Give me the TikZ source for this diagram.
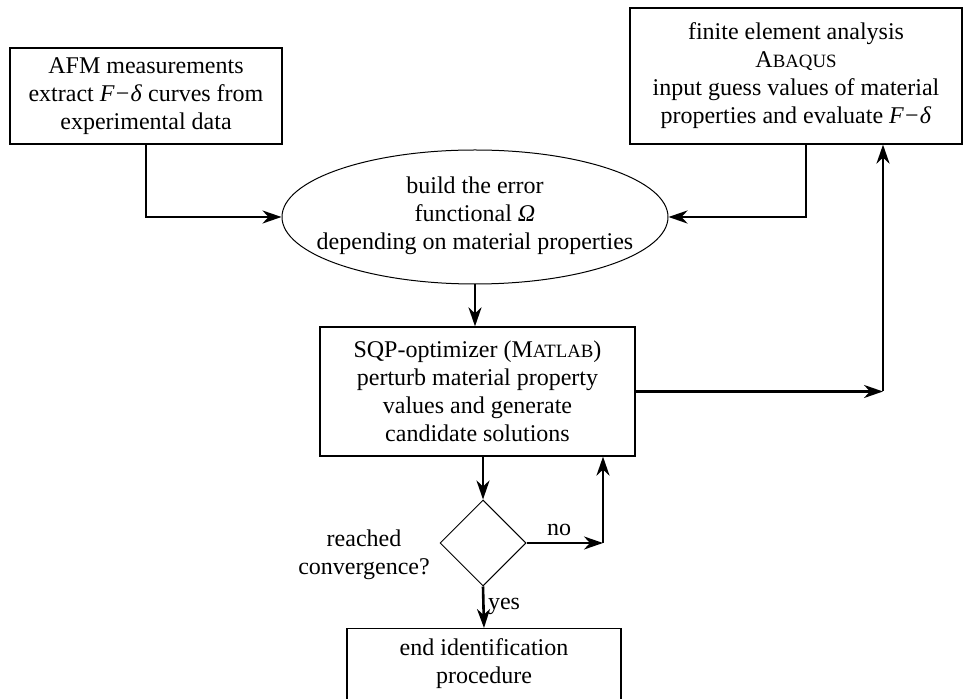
\documentclass[tikz,border=0pt]{standalone}
\usepackage{fontspec}
\setmainfont{Liberation Serif}
\usetikzlibrary{arrows.meta,shapes.geometric}
\newcommand\Fdel{\textit{F}\kern0.6pt−\kern0.6pt\textit{δ}}
\newcommand\fakesc[1]{{\fontsize{9.4}{10}\selectfont #1}}
\begin{document}
\begin{tikzpicture}[x=0.5pt,y=-0.5pt,
  every node/.style={font=\fontsize{12}{14}\selectfont, inner sep=0pt},
  boxnode/.style={draw, line width=0.6pt, align=center},
  thinshape/.style={draw, line width=0.5pt, inner sep=0pt},
  conn/.style={line width=1.3pt, -{Stealth[length=9.5pt,width=6.5pt,inset=3pt]}}
]
\useasboundingbox (0,0) rectangle (963,699);

\node[boxnode, minimum width=136pt, minimum height=48pt] (afm) at (146,96)
  {AFM measurements\\extract \Fdel{} curves from\\experimental data};
\node[boxnode, minimum width=166pt, minimum height=68pt] (fea) at (796,76)
  {finite element analysis\\A\fakesc{BAQUS}\\input guess values of material\\properties and evaluate \Fdel};

\node[thinshape, ellipse, minimum width=193pt, minimum height=67pt] (err) at (475,217) {};
\node[align=center] (errtxt) at (475,216)
  {build the error\\functional \textit{Ω}\\depending on material properties};

\node[boxnode, minimum width=157.5pt, minimum height=64.5pt] (sqp) at (477.5,391.5)
  {SQP-optimizer (M\fakesc{ATLAB})\\perturb material property\\values and generate\\candidate solutions};

\node[thinshape, diamond, minimum width=43pt, minimum height=43pt] (conv) at (483,543) {};
\node[align=center] (convq) at (364,555) {reached\\convergence?};

\node[draw, line width=0.6pt, minimum width=137pt, minimum height=41pt, anchor=north] (endbox) at (484,628) {};
\node[align=center] (endtxt) at (484,664) {end identification\\procedure};

\coordinate (c1) at (883,391.5);
\coordinate (c2) at (603,543);

\draw[conn] (afm.south) |- (err.west);
\draw[conn] ([xshift=5pt]fea.south) |- (err.east);
\draw[conn] (err.south) -- (err.south |- sqp.north);
\draw[conn] (sqp.east) -- (c1);
\draw[conn] (c1) -- (c1 |- fea.south);
\draw[conn] (conv.north |- sqp.south) -- (conv.north);
\draw[conn] (conv.east) -- (c2);
\draw[conn] (c2) -- (c2 |- sqp.south);
\draw[conn] (conv.south) -- (endbox.north);

\node (no) at (559,530) {no};
\node (yes) at (504,606) {yes};
\end{tikzpicture}
\end{document}
